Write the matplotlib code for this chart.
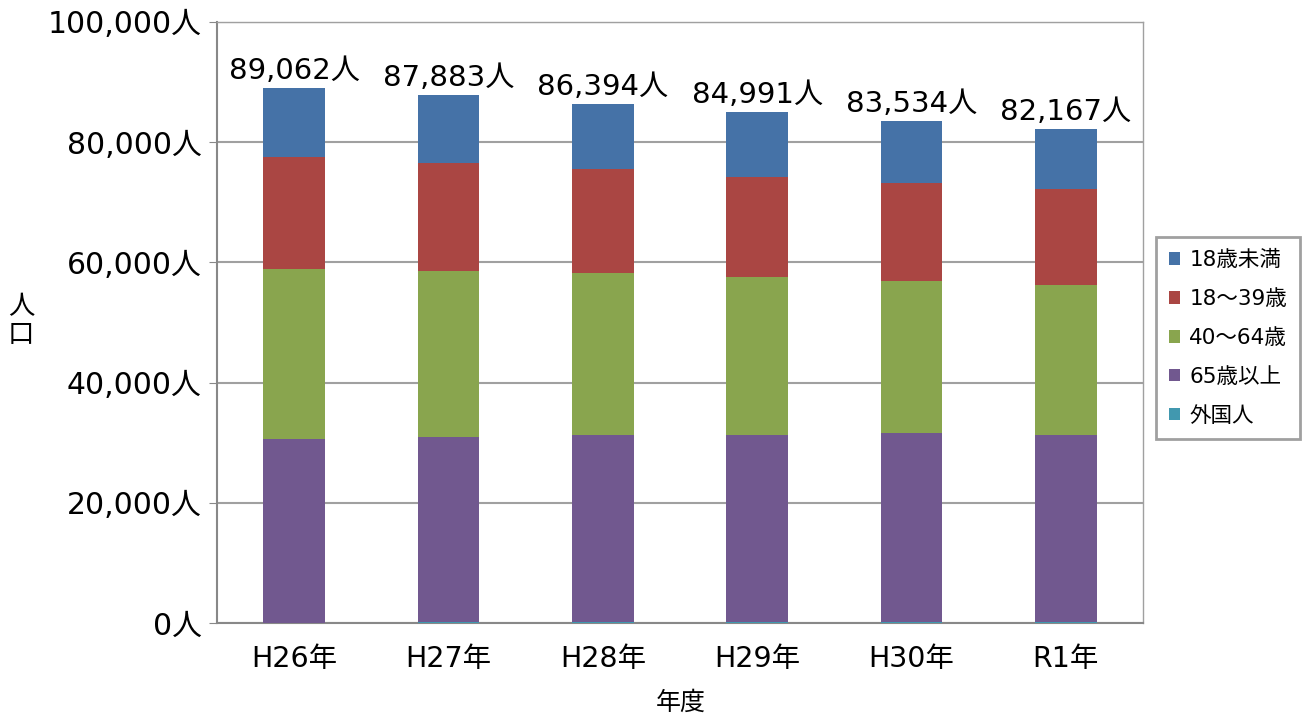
import numpy as np
import matplotlib
matplotlib.use("Agg")
import matplotlib.pyplot as plt

# DejaVu の数字は幅が広く元図に近い。漢字は CJK フォントへ回す
plt.rcParams['font.family'] = ['DejaVu Sans', 'Noto Sans CJK JP']

# 年度別人口（人）
years = ["H26年", "H27年", "H28年", "H29年", "H30年", "R1年"]
foreign = [80, 160, 170, 180, 190, 200]
age65_plus = [30520, 30790, 31130, 31120, 31410, 31100]
age40_64 = [28300, 27650, 26900, 26300, 25300, 24900]
age18_39 = [18600, 17900, 17300, 16600, 16300, 16000]
under18 = [11562, 11383, 10894, 10791, 10334, 9967]

series = [
    ("外国人", foreign, "#4198AF"),
    ("65歳以上", age65_plus, "#71588F"),
    ("40～64歳", age40_64, "#89A54E"),
    ("18～39歳", age18_39, "#AA4643"),
    ("18歳未満", under18, "#4572A7"),
]

fig = plt.figure(figsize=(13.06, 7.18), dpi=100)
ax = fig.add_axes([217 / 1306, 1 - 623 / 718, (1143 - 217) / 1306, (623 - 22) / 718])

x = np.arange(len(years))
bottom = np.zeros(len(years))
handles = {}
for name, vals, color in series:
    b = ax.bar(x, vals, width=0.4, bottom=bottom, color=color, label=name, zorder=3)
    handles[name] = b
    bottom += np.array(vals)

totals = bottom
for xi, t in zip(x, totals):
    ax.text(xi, t + 500, f"{int(t):,}人", ha="center", va="bottom", fontsize=21)

ax.set_xlim(-0.5, len(years) - 0.5)
ax.set_ylim(0, 100000)
ax.set_yticks(np.arange(0, 100001, 20000))
ax.set_yticklabels([f"{v:,}人" for v in range(0, 100001, 20000)], fontsize=21.5)
ax.set_xticks(x)
ax.set_xticklabels(years, fontsize=20.5)
ax.tick_params(axis="x", length=0, pad=16)
ax.tick_params(axis="y", length=6, color="#888888", pad=5, direction="out")

ax.yaxis.grid(True, color="#a0a0a0", linewidth=1.5, zorder=0)
for s in ["top", "right"]:
    ax.spines[s].set_color("#a0a0a0")
    ax.spines[s].set_linewidth(1.0)
for s in ["left", "bottom"]:
    ax.spines[s].set_color("#888888")
    ax.spines[s].set_linewidth(1.5)

fig.text(681 / 1306, 1 - 703 / 718, "年度", ha="center", va="center", fontsize=18)
fig.text(21 / 1306, 1 - 321 / 718, "人\n口", ha="center", va="center", fontsize=19,
         linespacing=1.05)

order = ["18歳未満", "18～39歳", "40～64歳", "65歳以上", "外国人"]
leg = fig.legend([handles[n] for n in order], order,
                 loc="center", bbox_to_anchor=(1228 / 1306, 1 - 338 / 718),
                 fontsize=15.5, frameon=True, fancybox=False, edgecolor="#888888",
                 handlelength=0.5, handleheight=0.5, handletextpad=0.45,
                 labelspacing=0.88, borderpad=0.6, borderaxespad=0)
leg.get_frame().set_linewidth(2)

fig.savefig("out.png", dpi=100)
